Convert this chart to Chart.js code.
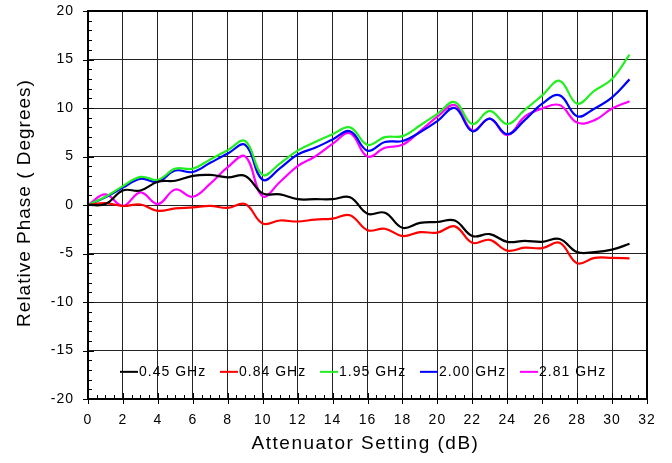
<!DOCTYPE html>
<html>
<head>
<meta charset="utf-8">
<script src="https://cdn.jsdelivr.net/npm/chart.js@4"></script>
<style>
  html, body { margin: 0; padding: 0; background: #fff; }
  #wrap { width: 672px; height: 463px; }
</style>
</head>
<body>
<div id="wrap"><canvas id="c" width="672" height="463"></canvas></div>
<script>
const atten = [0,1,2,3,4,5,6,7,8,9,10,11,12,13,14,15,16,17,18,19,20,21,22,23,24,25,26,27,28,29,30,31];
const f045 = [0, 0.1, 1.5, 1.5, 2.4, 2.5, 3.0, 3.1, 2.85, 3.0, 1.2, 1.1, 0.6, 0.6, 0.6, 0.8, -0.9, -0.8, -2.35, -1.85, -1.75, -1.6, -3.2, -3.0, -3.8, -3.7, -3.8, -3.5, -4.85, -4.85, -4.6, -4.0];
const f084 = [0, 0.2, -0.1, 0.05, -0.6, -0.35, -0.25, -0.1, -0.3, 0.1, -1.9, -1.6, -1.7, -1.5, -1.4, -1.05, -2.6, -2.45, -3.2, -2.8, -2.85, -2.2, -3.9, -3.6, -4.7, -4.4, -4.45, -3.9, -6.0, -5.45, -5.45, -5.5];
const f195 = [0, 0.85, 1.95, 2.9, 2.6, 3.75, 3.75, 4.7, 5.65, 6.6, 3.1, 4.3, 5.6, 6.5, 7.3, 8.0, 6.2, 7.0, 7.1, 8.2, 9.4, 10.6, 8.35, 9.7, 8.35, 9.8, 11.3, 12.8, 10.45, 11.8, 13.0, 15.5];
const f200 = [0, 0.8, 1.8, 2.7, 2.4, 3.55, 3.4, 4.35, 5.3, 6.2, 2.6, 3.8, 5.2, 5.9, 6.75, 7.6, 5.6, 6.5, 6.6, 7.5, 8.65, 10.0, 7.6, 8.9, 7.3, 8.75, 10.45, 11.3, 9.15, 9.95, 11.1, 12.95];
const f281 = [0, 1.1, -0.1, 1.3, 0.1, 1.6, 0.85, 2.2, 3.9, 5.0, 0.9, 2.4, 4.0, 5.0, 6.3, 7.4, 5.0, 5.9, 6.2, 7.6, 9.1, 10.3, 7.7, 8.9, 7.2, 9.1, 9.95, 10.3, 8.5, 8.75, 9.95, 10.7];
const seriesNames = ['0.45 GHz', '0.84 GHz', '1.95 GHz', '2.00 GHz', '2.81 GHz'];
const seriesColors = ['#000000', '#ff0000', '#22ee22', '#0000ff', '#ff00ff'];
const xTitle = 'Attenuator Setting (dB)';
const yTitle = 'Relative Phase ( Degrees)';

const FONT = '"Liberation Sans", Arial, sans-serif';
const pts = arr => arr.map((v, i) => ({ x: atten[i], y: v }));
const allData = [f045, f084, f195, f200, f281];

// wide letter spacing like the original plot
const spacing = {
    id: 'spacing',
    beforeDraw(chart) { chart.ctx.letterSpacing = '1px'; }
};

// tick marks (major cross the axis, minor inward), heavy frame
const frame = {
    id: 'frame',
    afterDatasetsDraw(chart) {
        const { ctx, chartArea: a, scales: { x, y } } = chart;
        ctx.save();
        ctx.strokeStyle = '#000';
        ctx.lineWidth = 1;
        ctx.beginPath();
        for (let v = 0; v <= 32; v += 0.5) {
            const px = Math.round(x.getPixelForValue(v)) + 0.5;
            if (v % 2 === 0) { ctx.moveTo(px, a.bottom + 5); ctx.lineTo(px, a.bottom - 6); }
            else { ctx.moveTo(px, a.bottom); ctx.lineTo(px, a.bottom - 4); }
        }
        for (let v = -20; v <= 20; v += 1) {
            const py = Math.round(y.getPixelForValue(v)) + 0.5;
            if (v % 5 === 0) { ctx.moveTo(a.left - 5, py); ctx.lineTo(a.left + 6, py); }
            else { ctx.moveTo(a.left, py); ctx.lineTo(a.left + 4, py); }
        }
        ctx.stroke();
        ctx.lineWidth = 2;
        ctx.strokeRect(a.left, a.top, a.right - a.left, a.bottom - a.top);
        ctx.restore();
    }
};

// legend inside the plot + axis titles
const extras = {
    id: 'extras',
    afterDraw(chart) {
        const { ctx, chartArea: a, scales: { y } } = chart;
        const ly = y.getPixelForValue(-17.2);
        ctx.save();
        ctx.letterSpacing = '1px';
        ctx.font = '14px ' + FONT;
        ctx.textBaseline = 'middle';
        chart.data.datasets.forEach((ds, i) => {
            const x0 = 120 + i * 100;
            ctx.strokeStyle = ds.borderColor;
            ctx.lineWidth = 2;
            ctx.beginPath();
            ctx.moveTo(x0, ly); ctx.lineTo(x0 + 18, ly);
            ctx.stroke();
            ctx.fillStyle = '#000';
            ctx.textAlign = 'left';
            ctx.fillText(ds.label, x0 + 19, ly);
        });
        ctx.font = '19px ' + FONT;
        ctx.letterSpacing = '1.5px';
        ctx.textAlign = 'center';
        ctx.fillText(xTitle, (a.left + a.right) / 2 - 2, 444);
        ctx.translate(25, (a.top + a.bottom) / 2 - 2);
        ctx.rotate(-Math.PI / 2);
        ctx.letterSpacing = '1px';
        ctx.fillText(yTitle, 0, 0);
        ctx.restore();
    }
};

new Chart(document.getElementById('c'), {
    type: 'line',
    data: {
        datasets: allData.map((d, i) => ({
            label: seriesNames[i],
            data: pts(d),
            borderColor: seriesColors[i],
            backgroundColor: seriesColors[i],
            borderWidth: 2.2,
            pointRadius: 0,
            tension: 0.4,
            fill: false
        }))
    },
    options: {
        responsive: false,
        animation: false,
        layout: { padding: { left: 0, top: 11, right: 25, bottom: 0 } },
        plugins: { legend: { display: false }, tooltip: { enabled: false } },
        scales: {
            x: {
                type: 'linear', min: 0, max: 32,
                ticks: { stepSize: 2, color: '#000', font: { family: FONT, size: 14 }, padding: 13, maxRotation: 0 },
                grid: { color: '#222', lineWidth: 1, drawTicks: false },
                border: { display: false },
                afterFit: s => { s.height = 64; s.paddingLeft = 0; s.paddingRight = 0; }
            },
            y: {
                min: -20, max: 20,
                ticks: { stepSize: 5, color: '#000', font: { family: FONT, size: 14 }, padding: 14 },
                grid: { color: '#222', lineWidth: 1, drawTicks: false },
                border: { display: false },
                afterFit: s => { s.width = 88; s.paddingTop = 0; s.paddingBottom = 0; }
            }
        }
    },
    plugins: [spacing, frame, extras]
});
</script>
</body>
</html>
